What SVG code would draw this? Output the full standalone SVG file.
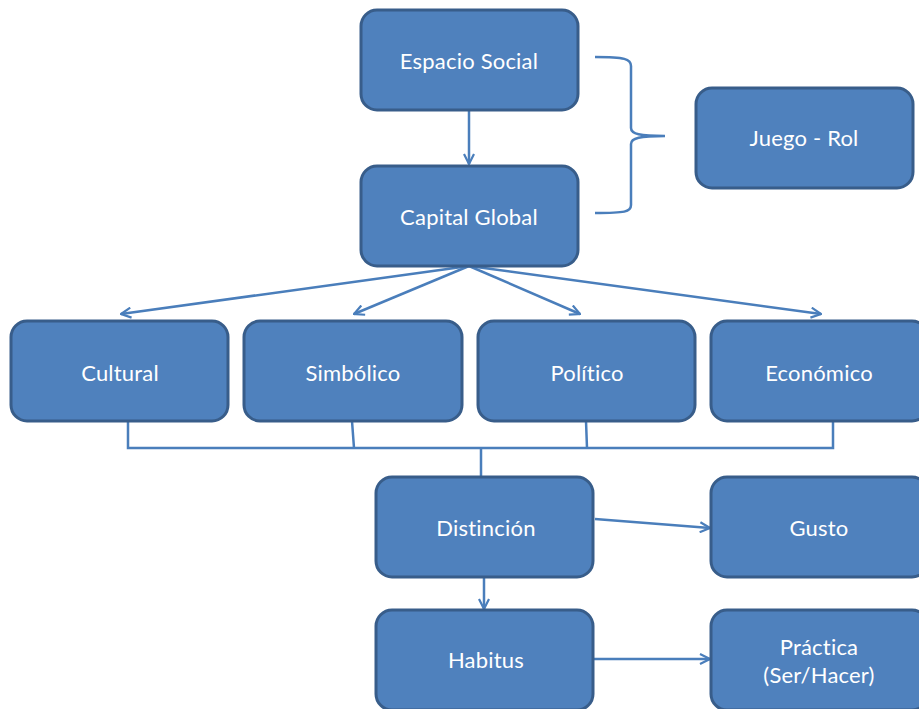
<svg xmlns="http://www.w3.org/2000/svg" width="919" height="709" viewBox="0 0 919 709">
<defs>
<style>
.box{fill:#4F81BD;stroke:#385D8A;stroke-width:3}
.t{font-family:Lato,"Open Sans","Liberation Sans",sans-serif;font-size:22px;fill:#FFFFFF;text-anchor:middle;font-variant-ligatures:none;letter-spacing:0.2px}
.c{fill:none;stroke:#4A7EBB;stroke-width:2.5}
</style>
<marker id="ah" viewBox="0 0 12 12" refX="11" refY="6" markerWidth="12" markerHeight="12" markerUnits="userSpaceOnUse" orient="auto">
<path d="M1,1 L11,6 L1,11" fill="none" stroke="#4A7EBB" stroke-width="2.2"/>
</marker>
</defs>
<rect width="919" height="709" fill="#FFFFFF"/>
<g id="connectors">
<line class="c" x1="469" y1="110" x2="469" y2="164" marker-end="url(#ah)"/>
<path class="c" d="M595,57 C625,57 631,59 631,66 L631,128 C631,134 640,136 665,136 C640,136 631,138 631,144 L631,205 C631,212 625,213 595,213"/>
<line class="c" x1="469" y1="266" x2="121" y2="314" marker-end="url(#ah)"/>
<line class="c" x1="469" y1="266" x2="354" y2="314" marker-end="url(#ah)"/>
<line class="c" x1="469" y1="266" x2="580" y2="314" marker-end="url(#ah)"/>
<line class="c" x1="469" y1="266" x2="821" y2="314" marker-end="url(#ah)"/>
<path class="c" d="M128,422 L128,448 L833,448 L833,422 M352,421 L354,448 M586,421 L587,448 M481,448 L481,477"/>
<line class="c" x1="484" y1="577" x2="484" y2="609" marker-end="url(#ah)"/>
<line class="c" x1="595" y1="519" x2="710" y2="528" marker-end="url(#ah)"/>
<line class="c" x1="594" y1="659" x2="710" y2="659" marker-end="url(#ah)"/>
</g>
<g id="espacio-social"><rect class="box" x="361" y="10" width="217" height="100" rx="16"/><text class="t" x="469" y="69">Espacio Social</text></g>
<g id="capital-global"><rect class="box" x="361" y="166" width="217" height="100" rx="16"/><text class="t" x="469" y="225">Capital Global</text></g>
<g id="juego-rol"><rect class="box" x="696" y="88" width="217" height="100" rx="16"/><text class="t" x="804" y="146">Juego - Rol</text></g>
<g id="cultural"><rect class="box" x="11" y="321" width="217" height="100" rx="16"/><text class="t" x="120" y="381">Cultural</text></g>
<g id="simbolico"><rect class="box" x="244" y="321" width="218" height="100" rx="16"/><text class="t" x="353" y="381">Simbólico</text></g>
<g id="politico"><rect class="box" x="478" y="321" width="217" height="100" rx="16"/><text class="t" x="587" y="381">Político</text></g>
<g id="economico"><rect class="box" x="711" y="321" width="217" height="100" rx="16"/><text class="t" x="819" y="381">Económico</text></g>
<g id="distincion"><rect class="box" x="376" y="477" width="217" height="100" rx="16"/><text class="t" x="486" y="536">Distinción</text></g>
<g id="gusto"><rect class="box" x="711" y="477" width="217" height="100" rx="16"/><text class="t" x="819" y="536">Gusto</text></g>
<g id="habitus"><rect class="box" x="376" y="610" width="217" height="100" rx="16"/><text class="t" x="486" y="668">Habitus</text></g>
<g id="practica"><rect class="box" x="711" y="610" width="217" height="100" rx="16"/><text class="t" x="819" y="655">Práctica</text><text class="t" x="819" y="683">(Ser/Hacer)</text></g>
</svg>
